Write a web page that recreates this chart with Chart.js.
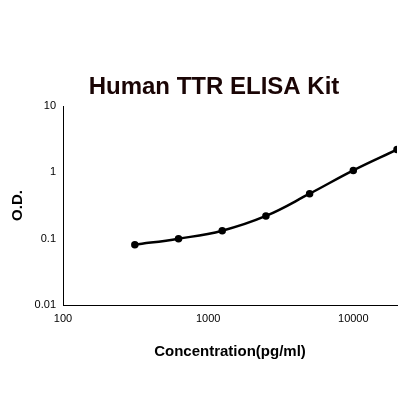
<!DOCTYPE html>
<html><head><style>body{margin:0;background:#fff}</style>
<script src="https://cdn.jsdelivr.net/npm/chart.js@4"></script></head>
<body><div style="width:420px;height:420px"><canvas id="c"></canvas></div>
<script>
const concentrations=[312.5,625,1250,2500,5000,10000,20000];
const od=[0.081,0.1,0.132,0.22,0.476,1.07,2.2];
const xTicks=[100,1000,10000];
const yTicks=[0.01,0.1,1,10];
const titleText='Human TTR ELISA Kit';
const titlePlugin={id:'t',afterDraw(ch){const c=ch.ctx;c.save();c.font='bold 24px Arial, "Liberation Sans"';c.fillStyle='#1a0505';c.textAlign='center';c.textBaseline='middle';c.fillText(titleText,214,87);c.restore();}};
new Chart(document.getElementById('c'),{type:'scatter',
data:{datasets:[{data:concentrations.map((x,i)=>({x,y:od[i]})),showLine:true,tension:0.4,borderColor:'#000',backgroundColor:'#000',borderWidth:2.5,pointRadius:2.5}]},
options:{responsive:true,maintainAspectRatio:false,animation:false,
layout:{padding:{left:5,right:23,top:106,bottom:55}},
plugins:{legend:{display:false},tooltip:{enabled:false}},
scales:{
x:{type:'logarithmic',min:100,max:20000,afterBuildTicks:s=>{s.ticks=xTicks.map(v=>({value:v}));},afterFit:s=>{s.height=60;},
grid:{display:false,drawTicks:true,tickLength:4},border:{color:'#000'},
ticks:{color:'#000',font:{size:11,family:'Arial'},maxRotation:0,callback:v=>String(v)},
title:{display:true,text:'Concentration(pg/ml)',color:'#000',font:{size:15,weight:'bold',family:'Arial'}}},
y:{type:'logarithmic',min:0.01,max:10,afterBuildTicks:s=>{s.ticks=yTicks.map(v=>({value:v}));},afterFit:s=>{s.width=58;},
grid:{display:false,tickLength:4},border:{color:'#000'},
ticks:{color:'#000',font:{size:11,family:'Arial'},callback:v=>String(v)},
title:{display:true,text:'O.D.',color:'#000',font:{size:15,weight:'bold',family:'Arial'}}}}},
plugins:[titlePlugin]});
</script></body></html>
